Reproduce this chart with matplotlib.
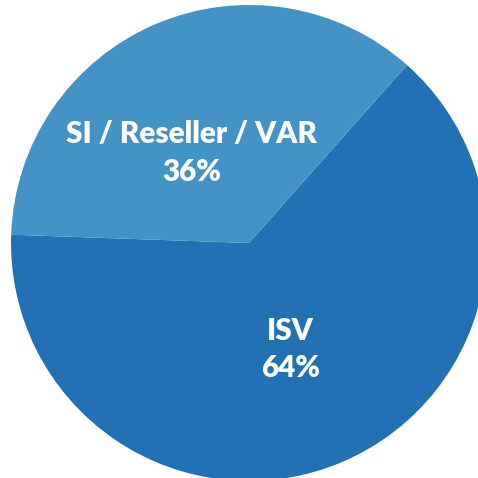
import numpy as np
import matplotlib.pyplot as plt

labels = ['ISV', 'SI / Reseller / VAR']
shares = [64, 36]
colors = ['#2371B5', '#4393C6']

# label centres in axes-data units (pie radius = 1)
label_pos = [(0.175, -0.448), (-0.24, 0.378)]

plt.rcParams['font.family'] = ['Lato', 'DejaVu Sans']

fig = plt.figure(figsize=(4.78, 4.78), dpi=100)
ax = fig.add_axes([0, 0, 1, 1])

ax.pie(shares, colors=colors, startangle=178, counterclock=True,
       radius=1, center=(0, 0), wedgeprops=dict(linewidth=0))

for lab, val, (x, y) in zip(labels, shares, label_pos):
    ax.text(x, y, f'{lab}\n{val}%', ha='center', va='center', color='white',
            fontsize=21.3, fontweight='heavy', linespacing=1.4)

# pie centre sits at pixel (249, 243) with radius 238 px
r_px = 238.0
ax.set_xlim(-249 / r_px, (478 - 249) / r_px)
ax.set_ylim(-(478 - 243) / r_px, 243 / r_px)
ax.set_aspect('equal', adjustable='datalim')
ax.axis('off')

fig.savefig('out.png', dpi=100)
